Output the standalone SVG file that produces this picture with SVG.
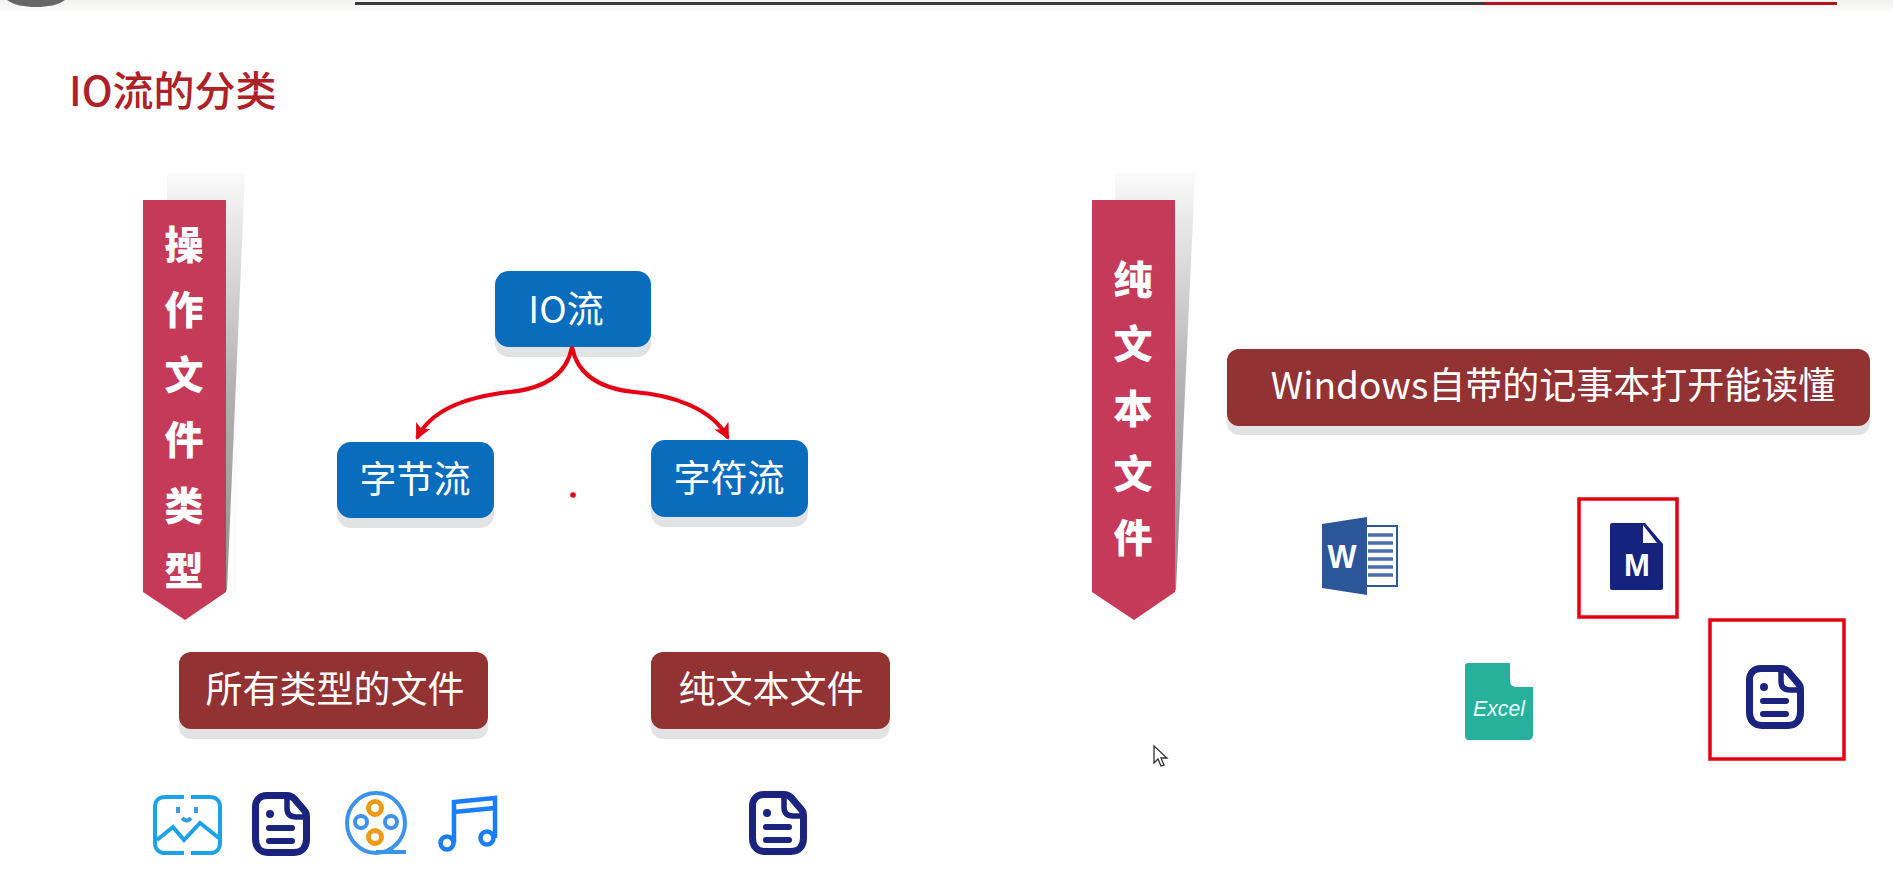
<svg xmlns="http://www.w3.org/2000/svg" width="1893" height="880" viewBox="0 0 1893 880">
<style>
text{font-family:"Noto Sans CJK SC","Noto Sans",sans-serif}
.blue{fill:#0a6cbc}
.brown{fill:#933232}
.sh{fill:#e2e3e5}
.ban{fill:#c53a58}
.wt{fill:#fff;font-size:37px;text-anchor:middle;dominant-baseline:central}
.bt{fill:#fff;font-size:39px;font-weight:900;text-anchor:middle;dominant-baseline:central}
.redbox{fill:none;stroke:#e60012;stroke-width:3.5}
.conn{fill:none;stroke:#e60012;stroke-width:4}
</style>
<defs>
<linearGradient id="top" x1="0" y1="0" x2="0" y2="1"><stop offset="0" stop-color="#f1f1f0"/><stop offset="1" stop-color="#fefefe"/></linearGradient>
<linearGradient id="shadow" x1="0" y1="0" x2="0" y2="1"><stop offset="0" stop-color="#fbfbfb"/><stop offset=".12" stop-color="#e8e8e8"/><stop offset=".5" stop-color="#b4b4b4"/><stop offset="1" stop-color="#909090"/></linearGradient>
<marker id="arr" markerUnits="userSpaceOnUse" markerWidth="18" markerHeight="18" refX="14" refY="8" orient="auto"><path d="M0 0L16 8L0 16L4 8Z" fill="#e60012"/></marker>
<filter id="soft" x="-5%" y="-5%" width="110%" height="110%"><feGaussianBlur stdDeviation="0.6"/></filter>
<symbol id="doc" viewBox="0 0 58 64" overflow="visible">
<path d="M15 3.5H35C38 3.5 40 4.5 42 6.5L52 18C54 20 54.500 22 54.500 25V47C54.500 55 50 60.500 42 60.500H16C8 60.500 3.500 55 3.500 47V15C3.500 8 8 3.500 15 3.500Z" fill="none" stroke="#1a237e" stroke-width="7"/>
<path d="M35 4V16C35 22 38 25 44 25H54" fill="none" stroke="#1a237e" stroke-width="5.500"/>
<circle cx="18" cy="22" r="4" fill="#1a237e"/>
<rect x="14" y="33" width="29" height="6" rx="3" fill="#1a237e"/>
<rect x="14" y="46" width="29" height="6" rx="3" fill="#1a237e"/>
</symbol>
</defs>
<rect width="1893" height="880" fill="#fefefe"/>
<g id="topbar">
<rect width="1893" height="13" fill="url(#top)"/>
<path d="M7 0H65C58 5 48 7 36 7C24 7 14 5 7 0Z" fill="#666"/>
<rect x="355" y="2" width="1130" height="3" fill="#3c3c3c"/>
<rect x="1485" y="2" width="352" height="3" fill="#b5101c"/>
</g>
<g id="title"><text x="69" y="106" fill="#ad2127" style="font-size:41px;font-weight:500">IO流的分类</text></g>
<g id="banner-type">
<path d="M167 173H245L227 590H167Z" fill="url(#shadow)" filter="url(#soft)"/>
<path class="ban" d="M143 200H226V592L185 620L143 592Z"/>
<text class="bt" x="184" y="242">操</text><text class="bt" x="184" y="307">作</text><text class="bt" x="184" y="372">文</text><text class="bt" x="184" y="437">件</text><text class="bt" x="184" y="503">类</text><text class="bt" x="184" y="568">型</text>
</g>
<g id="banner-text">
<path d="M1115 173H1195L1176 590H1115Z" fill="url(#shadow)" filter="url(#soft)"/>
<path class="ban" d="M1092 200H1175V592L1134 620L1092 592Z"/>
<text class="bt" x="1133" y="277">纯</text><text class="bt" x="1133" y="341">文</text><text class="bt" x="1133" y="406">本</text><text class="bt" x="1133" y="471">文</text><text class="bt" x="1133" y="535">件</text>
</g>
<g id="io"><rect class="sh" x="495" y="281" width="156" height="76" rx="14"/><rect class="blue" x="495" y="271" width="156" height="76" rx="14"/><text class="wt" x="566" y="307">IO流</text></g>
<g id="byte"><rect class="sh" x="337" y="452" width="157" height="76" rx="14"/><rect class="blue" x="337" y="442" width="157" height="76" rx="14"/><text class="wt" x="415" y="477">字节流</text></g>
<g id="char"><rect class="sh" x="651" y="450" width="157" height="77" rx="14"/><rect class="blue" x="651" y="440" width="157" height="77" rx="14"/><text class="wt" x="729" y="476">字符流</text></g>
<circle id="dot" cx="573" cy="495" r="2.8" fill="#e60012"/>
<g id="all-files"><rect class="sh" x="179" y="662" width="309" height="77" rx="12"/><rect class="brown" x="179" y="652" width="309" height="77" rx="12"/><text class="wt" x="335" y="687">所有类型的文件</text></g>
<g id="plain-files"><rect class="sh" x="651" y="662" width="239" height="77" rx="12"/><rect class="brown" x="651" y="652" width="239" height="77" rx="12"/><text class="wt" x="771" y="687">纯文本文件</text></g>
<g id="notepad"><rect class="sh" x="1227" y="359" width="643" height="76" rx="12"/><rect class="brown" x="1227" y="349" width="643" height="77" rx="12"/><text class="wt" x="1553" y="383">Windows自带的记事本打开能读懂</text></g>
<g id="connectors" filter="url(#soft)">
<path class="conn" d="M572 347C566 378 540 389 510 392C472 396 432 408 417 438" marker-end="url(#arr)"/>
<path class="conn" d="M572 347C578 378 604 389 634 392C672 395 712 408 728 438" marker-end="url(#arr)"/>
</g>
<g id="icon-image" fill="none" stroke="#1fa2e6" stroke-width="4" filter="url(#soft)">
<path d="M184 797H165C159 797 155 801 155 807V843C155 849 159 853 165 853H184M191 797H210C216 797 220 801 220 807V843C220 849 216 853 210 853H191"/>
<path d="M157 840L173 827L184 840L200 823L219 838"/>
<path d="M178 807V813M196 807V813M182 818Q187 823 191 818" stroke="#3a9ce0"/>
</g>
<use id="icon-doc1" href="#doc" x="252" y="792" width="58" height="64"/>
<g id="icon-reel" fill="none" stroke-width="4" filter="url(#soft)">
<ellipse cx="376" cy="823" rx="29" ry="30" stroke="#3e93ea"/>
<path d="M376 852H406" stroke="#3e93ea"/>
<circle cx="375" cy="808" r="6.500" stroke="#ee9a12" stroke-width="5"/><circle cx="375" cy="837" r="6.500" stroke="#ee9a12" stroke-width="5"/>
<circle cx="361" cy="822" r="6" stroke="#3e93ea"/><circle cx="391" cy="822" r="6" stroke="#3e93ea"/>
</g>
<g id="icon-music" fill="none" stroke="#1a7dfb" stroke-width="4.500" filter="url(#soft)">
<path d="M454 843V802L495 798V838M454 812L495 808"/>
<circle cx="447" cy="843" r="6.500"/><circle cx="487" cy="838" r="6.500"/>
</g>
<use id="icon-doc2" href="#doc" x="749" y="791" width="58" height="64"/>
<g id="icon-word">
<rect x="1364" y="526" width="33" height="60" fill="#fff" stroke="#2b579a" stroke-width="2"/>
<path d="M1368 535H1393M1368 543H1393M1368 551H1393M1368 559H1393M1368 567H1393M1368 575H1393" stroke="#4a6ea8" stroke-width="3.500"/>
<path d="M1322 524L1367 517V595L1322 588Z" fill="#2b579a"/>
<text x="1342" y="568" fill="#fff" text-anchor="middle" style="font-family:'Liberation Sans',sans-serif;font-size:34px;font-weight:700" textLength="29" lengthAdjust="spacingAndGlyphs">W</text>
</g>
<g id="icon-md">
<path d="M1612 523H1645L1663 544V588Q1663 590 1661 590H1612Q1610 590 1610 588V525Q1610 523 1612 523Z" fill="#16237e"/>
<path d="M1643 525V543H1657Z" fill="#fff"/>
<text x="1637" y="576" fill="#fff" text-anchor="middle" style="font-family:'Liberation Sans',sans-serif;font-size:31px;font-weight:700">M</text>
</g>
<rect id="redbox-md" class="redbox" x="1579" y="499" width="98" height="118"/>
<g id="icon-excel">
<path d="M1468 663H1510V680C1510 685 1512 687 1517 687H1533V735C1533 738 1531 740 1528 740H1468C1466 740 1465 738 1465 735V666C1465 664 1466 663 1468 663Z" fill="#27b09c"/>
<text x="1499" y="716" fill="#e8fbf6" text-anchor="middle" style="font-family:'Liberation Sans',sans-serif;font-size:22px;font-style:italic" textLength="52" lengthAdjust="spacingAndGlyphs">Excel</text>
</g>
<use id="icon-doc3" href="#doc" x="1746" y="665" width="58" height="64"/>
<rect id="redbox-doc" class="redbox" x="1710" y="620" width="134" height="139" stroke="#d90010"/>
<path id="cursor" d="M1154 746V763L1158 759L1161 766L1164 765L1161 758L1167 758Z" fill="#fff" stroke="#333" stroke-width="1.3"/>
</svg>
